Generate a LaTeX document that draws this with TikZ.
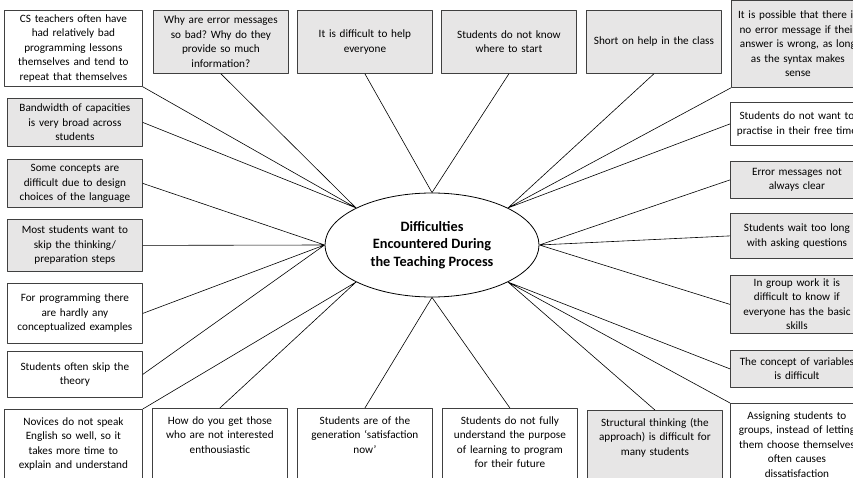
\documentclass[tikz,border=0pt]{standalone}
\usepackage{fontspec}
\setmainfont{Carlito}
\usetikzlibrary{shapes.geometric}
\definecolor{boxgrey}{RGB}{231,230,230}

\begin{document}
\frenchspacing
\begin{tikzpicture}[x=1pt,y=-1pt,line join=round,
	box/.style={draw=black!75,line width=0.8pt,fill=white,anchor=north west,inner xsep=0pt,inner ysep=3pt,
		text width=135pt,align=center,font=\fontsize{11.2}{14.5}\selectfont},
	grey/.style={fill=boxgrey},
	low/.style={inner ysep=6pt,text height=10pt,text depth=70pt},
	hub/.style={ellipse,draw=black,line width=0.8pt,fill=white,minimum width=214pt,minimum height=104pt,
		inner sep=0pt,align=center,font=\bfseries\fontsize{14.3}{17.5}\selectfont},
	link/.style={draw=black,line width=0.6pt}]
	\useasboundingbox (0,0) rectangle (853,478);
	\clip (0,0) rectangle (853,478);
	% top row
	\node[box,text width=138pt,minimum height=76pt] (cs) at (4,10) {CS teachers often have\\had relatively bad\\programming lessons\\themselves and tend to\\repeat that themselves};
	\node[box,grey,minimum height=63pt] (why) at (153,10) {Why are error messages\\so bad? Why do they\\provide so much\\information?};
	\node[box,grey,minimum height=63pt] (help) at (297,10) {It is difficult to help\\everyone};
	\node[box,grey,minimum height=63pt] (start) at (441,10) {Students do not know\\where to start};
	\node[box,grey,minimum height=63pt] (shorthelp) at (586,10) {Short on help in the class};
	\node[box,grey,minimum height=87pt,text width=133pt] (possible) at (731,0) {It is possible that there is\\no error message if their\\answer is wrong, as long\\as the syntax makes\\sense};
	% left column
	\node[box,grey,minimum height=48pt] (band) at (7,98) {Bandwidth of capacities\\is very broad across\\students};
	\node[box,grey,minimum height=48pt] (concepts) at (7,159) {Some concepts are\\difficult due to design\\choices of the language};
	\node[box,grey,minimum height=52pt] (skip) at (7,219) {Most students want to\\skip the thinking/\\preparation steps};
	\node[box,minimum height=60pt] (examples) at (7,283) {For programming there\\are hardly any\\conceptualized examples};
	\node[box,minimum height=46pt] (theory) at (7,351) {Students often skip the\\theory};
	% bottom row
	\node[box,low,text width=138pt] (novices) at (4,409) {Novices do not speak\\English so well, so it\\takes more time to\\explain and understand};
	\node[box,low] (enthuse) at (152,408) {How do you get those\\who are not interested\\enthousiastic};
	\node[box,low] (generation) at (297,408) {Students are of the\\generation ‘satisfaction\\now’};
	\node[box,low] (purpose) at (442,408) {Students do not fully\\understand the purpose\\of learning to program\\for their future};
	\node[box,low,grey] (structural) at (587,410) {Structural thinking (the\\approach) is difficult for\\many students};
	% right column
	\node[box,minimum height=43pt,text width=133pt] (practise) at (730,102) {Students do not want to\\practise in their free time};
	\node[box,grey,minimum height=37pt,text width=133pt] (errclear) at (730,161) {Error messages not\\always clear};
	\node[box,grey,minimum height=45pt,text width=133pt] (wait) at (730,213) {Students wait too long\\with asking questions};
	\node[box,grey,minimum height=58pt,text width=133pt] (group) at (730,275) {In group work it is\\difficult to know if\\everyone has the basic\\skills};
	\node[box,grey,minimum height=37pt,text width=133pt] (variables) at (730,350) {The concept of variables\\is difficult};
	\node[box,low,text width=133pt] (assigning) at (730,403) {Assigning students to\\groups, instead of letting\\them choose themselves\\often causes\\dissatisfaction};
	% centre
	\node[hub] (hub) at (432,245) {Difficulties\\Encountered During\\the Teaching Process};
	\draw[link] (cs.south east) -- (hub.north west) (why.south) -- (hub.north west) (band.east) -- (hub.north west);
	\draw[link] (help.south) -- (hub.north) (start.south) -- (hub.north);
	\draw[link] (shorthelp.south) -- (hub.north east) (possible.south west) -- (hub.north east) (practise.west) -- (hub.north east);
	\draw[link] (concepts.east) -- (hub.west) (skip.east) -- (hub.west) (examples.east) -- (hub.west) (theory.east) -- (hub.west);
	\draw[link] (errclear.west) -- (hub.east) (wait.west) -- (hub.east) (group.west) -- (hub.east);
	\draw[link] (novices.north east) -- (hub.south west) (enthuse.north) -- (hub.south west);
	\draw[link] (generation.north) -- (hub.south) (purpose.north) -- (hub.south);
	\draw[link] (structural.north) -- (hub.south east) (variables.west) -- (hub.south east) (assigning.north west) -- (hub.south east);
\end{tikzpicture}
\end{document}
